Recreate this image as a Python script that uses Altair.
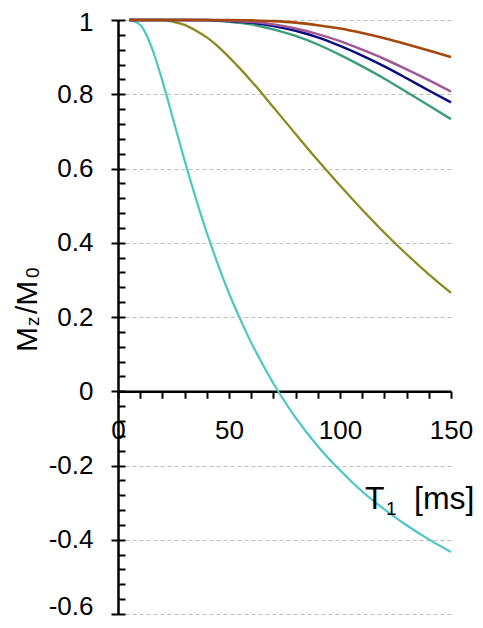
import altair as alt
import pandas as pd

# ---- data ----
t_cyan = [5, 10, 15, 20, 25, 30, 35, 40, 45, 50, 55, 60, 65, 70, 75, 80, 90, 100, 110, 120, 130, 140, 150]
m_cyan = [1.0, 0.987, 0.929, 0.836, 0.729, 0.622, 0.521, 0.427, 0.342, 0.264, 0.195, 0.131, 0.074, 0.021,
          -0.027, -0.071, -0.148, -0.213, -0.270, -0.318, -0.361, -0.399, -0.433]

t_olive = [5, 20, 25, 30, 35, 40, 45, 50, 55, 60, 70, 80, 90, 100, 110, 120, 130, 140, 150]
m_olive = [1.0, 1.0, 0.995, 0.987, 0.972, 0.953, 0.929, 0.900, 0.869, 0.836, 0.765, 0.693, 0.622,
           0.554, 0.489, 0.427, 0.369, 0.315, 0.265]

t_green = [5, 30, 40, 50, 60, 70, 80, 90, 100, 110, 120, 130, 140, 150]
m_green = [1.0, 1.0, 0.999, 0.995, 0.988, 0.975, 0.957, 0.934, 0.906, 0.875, 0.842, 0.806, 0.770, 0.733]

t_navy = [5, 40, 50, 60, 70, 80, 90, 100, 110, 120, 130, 140, 150]
m_navy = [1.0, 1.0, 0.997, 0.993, 0.984, 0.971, 0.953, 0.930, 0.904, 0.875, 0.843, 0.810, 0.778]

t_purple = [5, 40, 50, 60, 70, 80, 90, 100, 110, 120, 130, 140, 150]
m_purple = [1.0, 1.0, 0.998, 0.995, 0.988, 0.977, 0.962, 0.943, 0.920, 0.895, 0.867, 0.838, 0.807]

t_brown = [5, 50, 60, 70, 80, 90, 100, 110, 120, 130, 140, 150]
m_brown = [1.0, 1.0, 0.999, 0.997, 0.993, 0.986, 0.977, 0.965, 0.951, 0.935, 0.918, 0.900]

names = ["cyan", "olive", "green", "navy", "purple", "brown"]
colors = ["#4CC6C6", "#8C8A1E", "#3C9C7A", "#0A0A80", "#A05896", "#A5480F"]
widths = [2.2, 2.6, 2.6, 3.6, 2.6, 2.6]

x_ticks = list(range(0, 151, 10))
y_major = [-0.6, -0.4, -0.2, 0, 0.2, 0.4, 0.6, 0.8, 1]
y_minor = [round(-0.6 + 0.04 * i, 2) for i in range(41)]

series = {
    "cyan": (t_cyan, m_cyan), "olive": (t_olive, m_olive), "green": (t_green, m_green),
    "navy": (t_navy, m_navy), "purple": (t_purple, m_purple), "brown": (t_brown, m_brown),
}
rows = []
for name in names:
    ts, ms = series[name]
    for t, m in zip(ts, ms):
        rows.append({"s": name, "t": t, "m": m})
df = pd.DataFrame(rows)

# ---- layout ----
W, H = 333, 594
Y_LO, Y_HI = -0.6, 1.0
y0_px = H * (Y_HI - 0) / (Y_HI - Y_LO)
FONT = "Liberation Sans"

x_enc = alt.X(
    "t:Q",
    scale=alt.Scale(domain=[0, 150], nice=False, zero=False),
    axis=alt.Axis(
        orient="bottom", offset=-(H - y0_px), values=x_ticks,
        labelExpr="datum.value % 50 == 0 ? datum.label : ''",
        tickSize=7, tickWidth=2, tickColor="black",
        domainColor="black", domainWidth=2.5,
        labelFont=FONT, labelFontSize=26, labelColor="black", labelPadding=19,
        labelFlush=False, labelOverlap=False, grid=False, title=None,
    ),
)

y_scale = alt.Scale(domain=[Y_LO, Y_HI], nice=False, zero=False)

y_main = alt.Y(
    "m:Q", scale=y_scale,
    axis=alt.Axis(
        orient="left", values=y_major,
        labelExpr="replace(format(datum.value, '~g'), '\u2212', '-')",
        labelOffset={
            "condition": [
                {"test": "datum.value < -0.59", "value": -8},
                {"test": "datum.value > 0.99", "value": 2},
            ],
            "value": 0,
        },
        tickSize=7, tickWidth=2, tickColor="black",
        domainColor="black", domainWidth=2.5,
        labelFont=FONT, labelFontSize=26, labelColor="black", labelPadding=18,
        labelFlush=False, grid=True, gridColor="#BDBDBD", gridDash=[4, 3], gridWidth=1,
        title=None,
    ),
)

y_minor_enc = alt.Y(
    "m:Q", scale=y_scale,
    axis=alt.Axis(
        orient="right", offset=-W, values=y_minor,
        tickSize=7, tickWidth=2, tickColor="black",
        domain=False, labels=False, grid=False, title=None,
    ),
)

lines = alt.Chart(df).mark_line(interpolate="monotone").encode(
    x=x_enc,
    y=y_main,
    color=alt.Color("s:N", scale=alt.Scale(domain=names, range=colors), legend=None),
    strokeWidth=alt.StrokeWidth("s:N", scale=alt.Scale(domain=names, range=widths), legend=None),
)

minor = alt.Chart(df).mark_line(opacity=0).encode(
    x=x_enc, y=y_minor_enc, detail="s:N",
)

one = pd.DataFrame({"k": [0]})


def txt(s, x, y, size, angle=0):
    return alt.Chart(one).mark_text(
        text=s, font=FONT, fontSize=size, color="black", angle=angle,
        align="left", baseline="alphabetic",
    ).encode(x=alt.value(x), y=alt.value(y))


texts = [
    # y title  M_z / M_0 (rotated)
    txt("M", -81, 332, 30, 270),
    txt("z", -79, 306, 19, 270),
    txt("/M", -81, 294, 30, 270),
    txt("0", -79, 258, 19, 270),
    # x title  T_1 [ms]
    txt("T", 247, 489, 32),
    txt("1", 268, 495, 19),
    txt("[ms]", 296, 489, 32),
]

chart = alt.layer(lines, minor, *texts).resolve_axis(y="independent").properties(
    width=W, height=H,
    autosize=alt.AutoSizeParams(type="none"),
    padding={"left": 110, "top": 12, "right": 24, "bottom": 4},
).configure_view(stroke=None)

chart.save("out.html", embed_options={"renderer": "svg", "actions": False})
